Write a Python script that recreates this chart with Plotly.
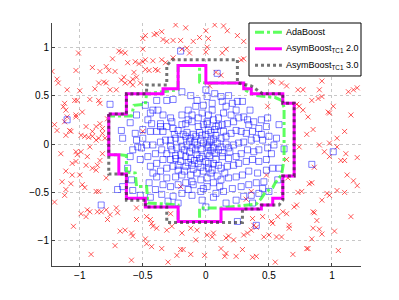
import plotly.graph_objects as go

# ---- negative class (red x) ----
red_points = [
    (-0.24,1.23),(-0.48,1.12),(-0.41,1.13),(-0.39,1.14),(-0.35,1.16),(-0.34,1.08),(-0.31,1.06),(-0.26,1.07),
    (-0.20,1.07),(-0.19,0.98),(-0.15,0.99),(-0.13,0.94),(-0.10,1.06),(-0.50,1.09),(-0.50,0.98),(-0.67,0.95),
    (-0.64,0.94),(-0.69,0.96),(-0.74,0.88),(-0.62,0.84),(-0.56,0.85),(-0.53,0.83),(-0.50,0.85),(-0.48,0.87),
    (-0.42,0.86),(-0.35,0.87),(-0.32,0.84),(-0.26,0.89),(-1.01,0.94),(-1.03,0.76),(-0.90,0.79),(-0.84,0.75),
    (-0.79,0.80),(-0.77,0.76),(-0.72,0.75),(-0.67,0.66),(-0.65,0.69),(-0.60,0.64),(-0.58,0.67),(-0.55,0.69),
    (-0.57,0.74),(-0.48,0.77),(-0.45,0.76),(-0.40,0.77),(-0.38,0.76),(-0.52,0.63),(-0.58,0.61),(-0.64,0.63),
    (-0.71,0.56),(-0.76,0.56),(-0.81,0.64),(-0.85,0.63),(-0.79,0.63),(-0.88,0.57),(-0.92,0.46),(-0.85,0.45),
    (-0.84,0.42),(-1.00,0.55),(-1.04,0.45),(-1.02,0.45),(-1.10,0.56),(-1.17,0.63),(-1.12,0.42),(-1.18,0.67),
    (-1.22,0.75),(-1.11,0.35),(-0.98,0.33),(-1.03,0.28),(-1.10,0.28),(-1.18,0.14),(-1.08,0.14),(-1.11,0.09),
    (-0.99,0.09),(-0.96,0.08),(-0.93,0.07),(-0.90,0.13),(-0.87,0.18),(-0.84,0.21),(-0.82,0.16),(-0.85,0.06),
    (-0.80,0.06),(-0.78,0.26),(-1.20,0.20),(-0.16,1.20),(-0.05,1.10),
    (-0.92,-0.03),(-0.99,-0.08),(-1.03,-0.08),(-1.02,-0.11),(-1.15,-0.10),(-1.06,-0.20),(-1.03,-0.18),
    (-1.11,-0.28),(-0.95,-0.22),(-0.90,-0.25),(-0.86,-0.22),(-0.87,-0.27),(-0.84,-0.17),(-1.00,-0.32),
    (-1.06,-0.32),(-1.14,-0.39),(-1.07,-0.41),(-0.98,-0.42),(-0.96,-0.45),(-0.90,0.08),(-0.87,0.04),
    (-0.82,0.11),(-0.95,0.18),(-1.13,0.385),(-1.12,0.23),(-1.07,0.13),(-1.03,0.30),
    (-0.94,-0.13),(-0.82,-0.10),(-0.79,-0.35),(-1.11,-0.47),(-1.12,-0.53),(-0.87,-0.49),(-0.85,-0.49),
    (-0.94,-0.68),(-0.92,-0.70),(-0.99,-0.72),(-0.95,-0.75),(-0.86,-0.70),(-0.83,-0.70),(-0.79,-0.68),
    (-0.76,-0.73),(-0.78,-0.78),(-0.68,-0.90),(-0.64,-0.89),(-0.59,-0.92),(-0.58,-0.95),(-0.55,-0.78),
    (-0.71,-0.66),(-0.70,-0.71),(-0.48,-0.98),(-0.47,-1.03),(-0.42,-0.85),(-0.39,-0.87),(-0.31,-0.89),
    (-0.27,-0.85),(-0.43,-1.06),(-0.35,-1.08),(-0.23,-1.15),(-0.20,-1.09),(-0.12,-1.14),(-0.18,-1.09),
    (-0.59,-1.20),(-0.91,-1.14),(-0.44,-0.78),(-0.43,-0.82),(-0.12,-0.87),(-0.07,-0.89),(-0.19,-0.92),
    (-0.28,-0.72),(-0.47,-0.75),(-0.55,-0.66),(-0.08,-0.99),(-1.20,-0.60),(-1.05,-0.85),(-0.72,-1.05),
    (-0.30,-1.22),
    (0.64,-0.16),(0.94,-0.08),(0.98,-0.13),(1.11,-0.10),(1.20,-0.14),(1.07,-0.17),(1.10,-0.17),(0.86,-0.24),
    (0.82,-0.41),(0.84,-0.40),(0.73,-0.50),(0.76,-0.49),(0.65,-0.35),(0.72,-0.63),(0.70,-0.65),(0.92,-0.58),
    (0.96,-0.51),(0.98,-0.53),(1.04,-0.48),(1.10,-0.50),(1.12,-0.32),(1.17,-0.38),(1.20,-0.43),(0.85,-0.70),
    (0.86,-0.71),(0.88,-0.79),(0.85,-0.87),(0.90,-0.88),(0.92,-0.93),(1.02,-0.90),(0.61,-0.70),(0.64,-0.72),
    (0.52,-0.80),(0.53,-0.82),(0.57,-0.75),(0.66,-0.87),(0.66,-0.84),(0.60,-0.96),(0.56,-0.96),(0.50,-0.94),
    (0.46,-0.96),(0.38,-0.84),(0.40,-0.86),(0.36,-0.89),(0.33,-0.92),(0.30,-0.94),(0.37,-0.77),(0.45,-0.75),
    (0.16,-0.97),(0.18,-0.95),(0.22,-0.99),(0.06,-0.92),(0.05,-0.96),(0.01,-0.94),(0.12,-1.08),(0.15,-1.16),
    (0.16,-1.13),(0.24,-1.16),(0.29,-1.09),(0.37,-1.17),(0.40,-1.16),(-0.01,-1.15),(0.69,-1.14),(0.80,-1.08),
    (0.81,-1.08),(0.84,-0.98),(0.32,-0.57),(0.36,-0.49),(0.48,-0.32),(1.15,-0.75),(1.05,-1.10),(0.55,-1.22),
    (0.00,1.17),(0.07,1.23),(0.02,1.09),(0.14,1.22),(0.17,1.17),(0.16,0.98),(0.13,0.94),(0.01,1.00),
    (0.00,0.95),(0.30,1.06),(0.28,0.87),(0.30,0.88),(0.25,1.12),(0.12,0.71),(0.08,0.74),(0.03,0.60),
    (0.52,0.65),(0.60,0.63),(0.64,0.60),(0.73,0.56),(0.77,0.56),(0.92,0.65),(0.90,0.56),(0.84,0.45),
    (0.89,0.47),(0.72,0.41),(0.74,0.39),(0.77,0.35),(0.81,0.28),(0.97,0.33),(0.98,0.32),(1.01,0.39),
    (1.13,0.54),(1.17,0.56),(1.20,0.58),(1.10,0.13),(1.04,0.06),(0.98,0.01),(1.04,-0.03),(0.90,-0.01),
    (0.74,-0.03),(0.92,0.49),(0.49,0.39),(0.53,0.64),(0.85,0.15),(1.15,0.30),(0.80,0.10),
    (-0.50,0.13),(-0.20,-0.44),
]

# ---- positive class (blue squares) ----
blue_points = [
    (0.00,0.56),(0.01,0.49),(0.05,0.42),(0.12,0.49),(0.13,0.44),(0.16,0.39),(0.21,0.42),(0.25,0.44),
    (0.29,0.44),(0.24,0.35),(0.20,0.30),(0.14,0.32),(0.10,0.27),(0.06,0.25),(0.02,0.30),(0.01,0.21),
    (0.08,0.18),(0.13,0.20),(0.17,0.21),(0.22,0.23),(0.26,0.27),(0.30,0.28),(0.33,0.25),(0.34,0.20),
    (0.38,0.23),(0.44,0.25),(0.49,0.27),(0.48,0.18),(0.42,0.16),(0.37,0.13),(0.32,0.11),(0.28,0.13),
    (0.24,0.14),(0.20,0.11),(0.16,0.08),(0.12,0.06),(0.08,0.09),(0.04,0.04),(0.01,-0.01),(0.06,-0.04),
    (0.12,-0.03),(0.18,-0.04),(0.22,-0.01),(0.26,0.01),(0.30,0.02),(0.36,0.04),(0.40,0.06),(0.45,0.04),
    (0.50,0.08),(0.56,0.06),(0.54,-0.01),(0.49,-0.04),(0.42,-0.06),(0.38,-0.08),(0.33,-0.06),(0.28,-0.10),
    (0.24,-0.13),(0.18,-0.15),(0.13,-0.13),(0.08,-0.16),(0.02,-0.20),(0.05,-0.27),(0.12,-0.25),(0.17,-0.23),
    (0.22,-0.22),(0.26,-0.20),(0.32,-0.18),(0.37,-0.16),(0.42,-0.18),(0.48,-0.16),(0.53,-0.25),(0.48,-0.27),
    (0.41,-0.30),(0.34,-0.28),(0.29,-0.32),(0.24,-0.34),(0.18,-0.35),(0.12,-0.37),(0.06,-0.40),(0.01,-0.44),
    (0.08,-0.51),(0.14,-0.49),(0.21,-0.46),(0.28,-0.44),(0.34,-0.42),(0.40,-0.40),(0.46,-0.39),(0.57,-0.37),
    (0.50,-0.49),(0.42,-0.51),(0.36,-0.53),(0.30,-0.54),(0.24,-0.58),(0.16,-0.61),(0.37,-0.61),
    (-0.39,0.45),(-0.31,0.45),(-0.26,0.46),(-0.19,0.54),(-0.07,0.45),(-0.08,0.39),(-0.11,0.30),(-0.03,0.32),
    (-0.42,0.35),(-0.38,0.35),(-0.44,0.32),(-0.34,0.30),(-0.28,0.27),(-0.27,0.23),(-0.36,0.21),(-0.43,0.21),
    (-0.46,0.25),(-0.56,0.11),(-0.67,0.14),(-0.66,0.06),(-0.55,0.04),(-0.50,0.06),(-0.44,0.13),(-0.39,0.13),
    (-0.36,0.18),(-0.34,0.13),(-0.31,0.18),(-0.26,0.16),(-0.22,0.14),(-0.19,0.20),(-0.16,0.21),(-0.14,0.25),
    (-0.11,0.23),(-0.06,0.18),(-0.02,0.20),(0.01,0.23),(0.02,0.14),(-0.03,0.09),(-0.08,0.08),(-0.12,0.06),
    (-0.16,0.08),(-0.20,0.04),(-0.24,0.06),(-0.28,0.04),(-0.32,0.04),(-0.36,0.02),(-0.42,-0.01),(-0.47,-0.01),
    (-0.51,-0.04),(-0.54,-0.03),(-0.58,-0.06),(-0.60,-0.13),(-0.52,-0.16),(-0.46,-0.13),(-0.40,-0.10),
    (-0.35,-0.06),(-0.31,-0.10),(-0.27,-0.06),(-0.23,-0.04),(-0.19,-0.03),(-0.15,-0.01),(-0.11,-0.04),
    (-0.07,-0.01),(-0.02,0.01),(0.02,-0.03),(0.01,-0.10),(-0.03,-0.13),(-0.07,-0.11),(-0.12,-0.15),
    (-0.16,-0.13),(-0.20,-0.11),(-0.24,-0.15),(-0.28,-0.16),(-0.34,-0.16),(-0.39,-0.20),(-0.44,-0.23),
    (-0.42,-0.30),(-0.36,-0.28),(-0.31,-0.25),(-0.26,-0.23),(-0.22,-0.22),(-0.16,-0.23),(-0.11,-0.22),
    (-0.06,-0.20),(0.00,-0.18),(0.02,-0.25),(-0.02,-0.28),(-0.07,-0.30),(-0.12,-0.32),(-0.19,-0.32),
    (-0.24,-0.34),(-0.31,-0.35),(-0.39,-0.34),(-0.34,-0.42),(-0.28,-0.44),(-0.22,-0.42),(-0.16,-0.40),
    (-0.11,-0.39),(-0.04,-0.37),(0.01,-0.35),(-0.14,-0.47),(-0.19,-0.51),(-0.11,-0.53),(-0.04,-0.49),
    (-0.26,-0.54),(-0.30,-0.59),(-0.22,-0.61),(-0.03,-0.58),(0.00,-0.65),(-0.66,-0.44),(-0.52,-0.53),
    (-0.40,-0.47),(-0.59,-0.37),
    (-0.18,0.10),(-0.15,0.12),(-0.10,0.10),(-0.05,0.12),(0.00,0.10),(0.04,0.12),(0.07,0.15),(-0.13,0.03),
    (-0.09,0.02),(-0.04,0.04),(0.03,0.02),(0.06,0.05),(0.09,0.01),(-0.17,-0.06),(-0.13,-0.08),(-0.08,-0.06),
    (-0.04,-0.05),(0.04,-0.07),(0.07,-0.09),(0.10,-0.06),(-0.20,-0.18),(-0.14,-0.19),(-0.09,-0.17),
    (-0.05,-0.15),(0.03,-0.12),(0.06,-0.20),(0.10,-0.22),(-0.22,-0.27),(-0.17,-0.28),(-0.10,-0.26),
    (-0.04,-0.24),(0.04,-0.30),(0.09,-0.33),(-0.25,0.10),(-0.28,-0.02),(-0.24,-0.12),(-0.19,0.30),
    (-0.14,0.35),(-0.06,0.27),(0.05,0.35),(0.10,0.19),(0.14,0.13),(0.16,0.00),(0.13,-0.09),(0.15,-0.30),
    (0.19,-0.08),(-0.02,0.40),(-0.10,-0.42),(-0.02,-0.46),(0.06,-0.55),(0.11,-0.44),(-0.35,-0.52),
    (-0.45,-0.40),(-0.50,0.15),(-0.48,0.40),(-0.55,0.30),(-0.60,0.22),(-0.12,0.50),(0.07,0.52),(0.18,0.50),
    (0.35,0.35),(0.44,0.10),(0.52,-0.10),(0.58,0.20),(0.62,-0.05),(0.45,-0.46),(0.58,-0.25),(-0.62,-0.25),
    (-0.58,-0.48),(-0.44,-0.55),
    (-1.10,0.25),(-0.76,0.41),(-0.20,0.96),(-0.83,-0.63),(0.84,-0.21),(1.01,-0.08),(0.40,-0.84),
    (0.25,-0.80),(0.09,0.73),(-0.70,-0.47),
]

# ---- decision boundaries (closed step contours) ----
ada_x = [-0.77,-0.77,-0.59,-0.57,-0.48,-0.47,-0.34,-0.22,-0.22,-0.05,-0.05,0.00,0.30,0.32,0.40,0.55,0.60,
         0.62,0.62,0.60,0.55,0.53,0.47,0.44,0.40,0.12,-0.05,-0.05,-0.22,-0.22,-0.31,-0.46,-0.47,-0.55,-0.56,
         -0.63,-0.63,-0.69,-0.77]
ada_y = [-0.11,0.29,0.29,0.40,0.41,0.52,0.54,0.56,0.81,0.81,0.64,0.63,0.63,0.55,0.50,0.48,0.45,
         0.38,-0.16,-0.32,-0.40,-0.45,-0.50,-0.56,-0.62,-0.66,-0.66,-0.80,-0.80,-0.63,-0.62,-0.61,-0.44,-0.44,-0.30,
         -0.29,-0.12,-0.11,-0.11]

asym2_x = [-0.77,-0.63,-0.63,-0.34,-0.34,-0.22,-0.22,0.00,0.00,0.30,0.30,0.36,0.36,0.61,0.61,0.70,0.70,
           0.61,0.61,0.53,0.53,0.44,0.44,0.12,0.12,-0.22,-0.22,-0.48,-0.48,-0.63,-0.63,-0.69,-0.69,-0.77,-0.77]
asym2_y = [0.31,0.31,0.52,0.52,0.57,0.57,0.81,0.81,0.63,0.63,0.57,0.57,0.52,0.52,0.42,0.42,-0.33,
           -0.33,-0.56,-0.56,-0.63,-0.63,-0.67,-0.67,-0.80,-0.80,-0.65,-0.65,-0.56,-0.56,-0.31,-0.31,-0.11,-0.11,0.31]

asym3_x = [-0.77,-0.63,-0.63,-0.47,-0.47,-0.31,-0.31,-0.27,0.25,0.25,0.36,0.42,0.45,0.61,0.61,0.70,0.70,
           0.61,0.61,0.58,0.44,0.42,0.29,0.29,-0.31,-0.31,-0.48,-0.48,-0.63,-0.63,-0.77,-0.77]
asym3_y = [0.31,0.31,0.52,0.52,0.61,0.61,0.81,0.87,0.87,0.63,0.60,0.55,0.52,0.52,0.42,0.42,-0.33,
           -0.33,-0.58,-0.63,-0.63,-0.67,-0.67,-0.81,-0.81,-0.65,-0.65,-0.58,-0.58,-0.31,-0.31,0.31]

x_ticks = [-1, -0.5, 0, 0.5, 1]
y_ticks = [-1, -0.5, 0, 0.5, 1]
x_labels = ["\u22121", "\u22120.5", "0", "0.5", "1"]
y_labels = ["\u22121", "\u22120.5", "0", "0.5", "1"]

series_names = ["AdaBoost", "AsymBoost<sub>TC1</sub> 2.0", "AsymBoost<sub>TC1</sub> 3.0"]
series_colors = ["rgba(40,255,40,0.75)", "#ff00ff", "rgba(40,40,40,0.65)"]
series_dash = ["dashdot", "solid", "dot"]

FONT = "Liberation Sans, Arial, sans-serif"

fig = go.Figure()
fig.add_trace(go.Scatter(
    x=[p[0] for p in red_points], y=[p[1] for p in red_points], mode="markers",
    marker=dict(symbol="x-thin-open", size=5, color="rgba(255,0,0,0.65)",
                line=dict(color="rgba(255,0,0,0.65)", width=1)),
    showlegend=False, hoverinfo="skip"))
fig.add_trace(go.Scatter(
    x=[p[0] for p in blue_points], y=[p[1] for p in blue_points], mode="markers",
    marker=dict(symbol="square-open", size=6, color="rgba(0,0,255,0.5)", line=dict(width=1)),
    showlegend=False, hoverinfo="skip"))
for bx, by, nm, col, dsh in zip([ada_x, asym2_x, asym3_x], [ada_y, asym2_y, asym3_y],
                                series_names, series_colors, series_dash):
    fig.add_trace(go.Scatter(x=bx, y=by, mode="lines", name=nm, showlegend=False,
                             line=dict(color=col, width=3, dash=dsh)))

# ---- legend box (drawn in paper coordinates) ----
shapes = [dict(type="rect", xref="paper", yref="paper", x0=0.6375, x1=1.0, y0=0.782, y1=1.0,
               fillcolor="white", line=dict(color="black", width=1), layer="above")]
annotations = []
row_y = [0.962, 0.894, 0.826]
for ry, nm, col, dsh in zip(row_y, series_names, series_colors, series_dash):
    shapes.append(dict(type="line", xref="paper", yref="paper", x0=0.657, x1=0.744, y0=ry, y1=ry,
                       line=dict(color=col, width=3, dash=dsh), layer="above"))
    annotations.append(dict(xref="paper", yref="paper", x=0.752, y=ry, xanchor="left", yanchor="middle",
                            text=nm, showarrow=False, align="left",
                            font=dict(family=FONT, size=9, color="black")))

axis_common = dict(
    showgrid=True, gridcolor="#c8c8c8", griddash="dot", gridwidth=1,
    zeroline=False, showline=True, linecolor="#444", linewidth=1, mirror=False,
    ticks="inside", ticklen=3, tickcolor="#444",
    tickfont=dict(family=FONT, size=10, color="black"))

# page body adds an 8 px offset at top/left; size the figure so the plot area lands where the reference has it
fig.update_layout(
    width=391, height=292,
    margin=dict(l=44, r=38, t=15, b=34),
    paper_bgcolor="white", plot_bgcolor="white",
    xaxis=dict(range=[-1.22, 1.23], tickvals=x_ticks, ticktext=x_labels, **axis_common),
    yaxis=dict(range=[-1.26, 1.25], tickvals=y_ticks, ticktext=y_labels, **axis_common),
    shapes=shapes, annotations=annotations,
    showlegend=False,
    font=dict(family=FONT),
)

fig.write_html("out.html")
